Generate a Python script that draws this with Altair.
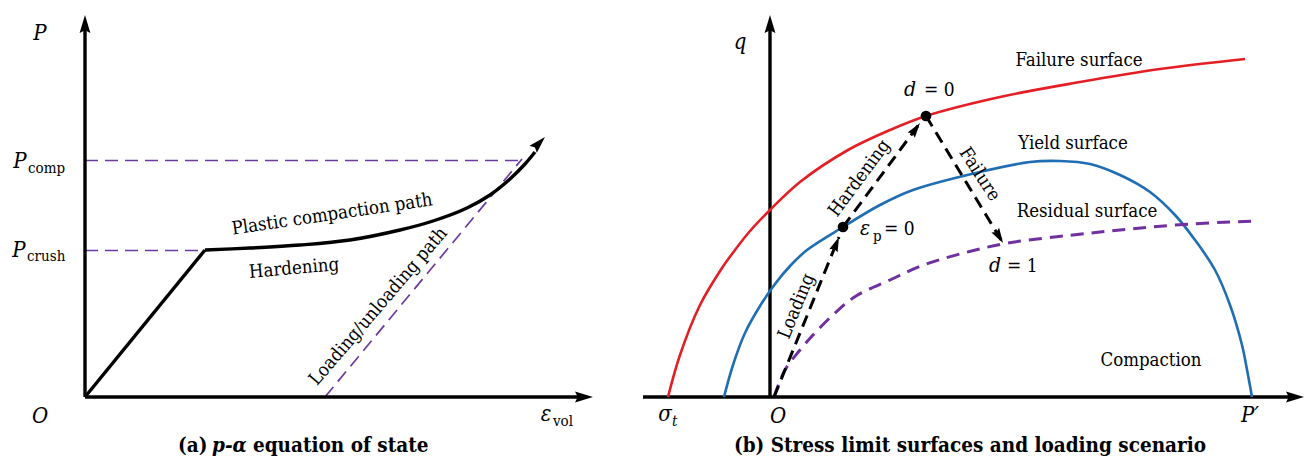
import altair as alt
import pandas as pd

# ---------------- panel (a): p-alpha equation of state ----------------
A_YAXIS_X = [85, 85]
A_YAXIS_Y = [397, 30]
A_XAXIS_X = [85, 580]
A_XAXIS_Y = [397, 397]
ELASTIC_X = [85, 205]
ELASTIC_Y = [397, 250]
COMPACTION_X = [205, 250, 300, 350, 400, 433, 467, 490, 510, 525, 535]
COMPACTION_Y = [250, 248, 245, 240, 230, 221, 208, 195, 179, 164, 152]
P_COMP_X = [85, 525]
P_COMP_Y = [160.5, 160.5]
P_CRUSH_X = [85, 205]
P_CRUSH_Y = [250.5, 250.5]
UNLOAD_X = [325, 522]
UNLOAD_Y = [397, 159]

# ---------------- panel (b): stress limit surfaces ----------------
B_YAXIS_X = [770, 770]
B_YAXIS_Y = [397, 30]
B_XAXIS_X = [643, 1290]
B_XAXIS_Y = [397, 397]
FAILURE_X = [668, 680, 700, 722, 735, 750, 770, 800, 848, 890, 926, 1000, 1080, 1160, 1245]
FAILURE_Y = [397, 355, 305, 268, 250, 231, 210, 182, 150, 130, 116, 97, 82, 69, 59]
YIELD_X = [724, 733, 745, 760, 775, 790, 807, 843, 880, 913, 980, 1030, 1060, 1090, 1120,
           1150, 1175, 1195, 1215, 1230, 1242, 1248, 1252]
YIELD_Y = [397, 365, 333, 306, 284, 266, 250, 227, 205, 190, 172, 162, 161, 164, 175,
           192, 215, 240, 270, 305, 345, 375, 397]
RESIDUAL_X = [774, 785, 800, 813, 835, 856, 890, 921, 960, 1008, 1073, 1130, 1190, 1255]
RESIDUAL_Y = [397, 370, 350, 335, 313, 296, 280, 266, 254, 243, 235, 229, 224, 221]
LOADING_X = [774, 839]
LOADING_Y = [397, 237]
HARDEN_X = [843, 920]
HARDEN_Y = [227, 123]
FAILPATH_X = [926, 1003]
FAILPATH_Y = [116, 243]
STATE_X = [843, 926]
STATE_Y = [227, 116]

# arrow heads (tip position, direction clockwise from "up", size)
HEAD_X = [85, 593, 545, 770, 1304, 839, 920, 1003]
HEAD_Y = [15, 397, 137, 15, 397, 237, 123, 243]
HEAD_ANGLE = [0, 90, 44, 0, 90, 22, 36, 149]
HEAD_SIZE = [324, 324, 289, 324, 324, 225, 225, 225]

# ---------------- text ----------------
ITALIC_TEXT = ["P", "P", "P", "O", "ε", "q", "σ", "O", "P′", "d", "ε", "d"]
ITALIC_X = [40, 20, 19, 40, 546, 740, 665, 778, 1250, 910, 865, 995]
ITALIC_Y = [33, 161, 250, 416, 414, 42, 414, 416, 415, 90, 229, 266]
ITALIC_SIZE = [22, 22, 22, 22, 22, 22, 22, 22, 22, 21, 21, 21]

SUB_TEXT = ["comp", "crush", "vol", "p"]
SUB_X = [28, 27, 553, 873]
SUB_Y = [168, 256, 421, 236]
SUB_T_X = 672
SUB_T_Y = 421

LABEL_TEXT = ["Plastic compaction path", "Hardening", "Loading/unloading path",
              "Failure surface", "Yield surface", "Residual surface", "Compaction",
              "Loading", "Hardening", "Failure"]
LABEL_X = [332, 294, 378, 1079, 1073, 1087, 1151, 796, 859, 980]
LABEL_Y = [214, 268, 306, 60, 143, 211, 360, 306, 178, 174]
LABEL_ANGLE = [-8.4, -5, -49.4, 0, 0, 0, 0, -67.8, -53.5, 57]

EQ_TEXT = ["= 0", "= 0", "= 1"]
EQ_X = [924, 884, 1007]
EQ_Y = [90, 229, 266]

CAPTION_A = ["(a)", "p-α", "equation of state"]
CAPTION_A_X = [178, 212, 253]
CAPTION_B = "(b) Stress limit surfaces and loading scenario"
CAPTION_B_X = 970
CAPTION_Y = 446

SERIF = "DejaVu Serif Condensed, DejaVu Serif"
X = alt.X("x:Q", scale=alt.Scale(domain=[8, 1305], zero=False, nice=False), axis=None)
Y = alt.Y("y:Q", scale=alt.Scale(domain=[8, 457], zero=False, nice=False, reverse=True), axis=None)


def lines(pairs):
    rows = []
    for i, (xs, ys) in enumerate(pairs):
        for j, (x, y) in enumerate(zip(xs, ys)):
            rows.append({"id": i, "o": j, "x": x, "y": y})
    return pd.DataFrame(rows)


def line_layer(pairs, color, width, dash=None, interp="linear"):
    kw = dict(color=color, strokeWidth=width, interpolate=interp, strokeCap="butt")
    if dash:
        kw["strokeDash"] = dash
    return alt.Chart(lines(pairs)).mark_line(**kw).encode(
        x=X, y=Y, detail="id:N", order="o:Q")


def text_layer(texts, xs, ys, size=18, angles=None, sizes=None, style="normal",
               weight="normal", align="center", font=SERIF):
    n = len(texts)
    df = pd.DataFrame({
        "t": texts, "x": xs, "y": ys,
        "a": [a % 360 for a in (angles or [0] * n)],
        "s": sizes or [size] * n,
    })
    return alt.Chart(df).mark_text(
        font=font, fontStyle=style, fontWeight=weight, align=align,
        baseline="middle", color="black").encode(
        x=X, y=Y, text="t:N", angle=alt.Angle("a:Q", scale=None),
        size=alt.Size("s:Q", scale=None))


ARROW = "M0,0L-0.6,2L0,1.7L0.6,2Z"

layers = [
    line_layer([(P_COMP_X, P_COMP_Y), (P_CRUSH_X, P_CRUSH_Y), (UNLOAD_X, UNLOAD_Y)],
               "#6b3a9e", 1.7, dash=[13, 7]),
    line_layer([(A_YAXIS_X, A_YAXIS_Y), (A_XAXIS_X, A_XAXIS_Y), (ELASTIC_X, ELASTIC_Y),
                (B_YAXIS_X, B_YAXIS_Y), (B_XAXIS_X, B_XAXIS_Y)], "black", 3.4),
    line_layer([(COMPACTION_X, COMPACTION_Y)], "black", 3.4, interp="catmull-rom"),
    line_layer([(FAILURE_X, FAILURE_Y)], "#e31e24", 2.6, interp="catmull-rom"),
    line_layer([(YIELD_X, YIELD_Y)], "#1f6db4", 2.6, interp="catmull-rom"),
    line_layer([(RESIDUAL_X, RESIDUAL_Y)], "#7030a0", 3.0, dash=[13, 8], interp="catmull-rom"),
    line_layer([(LOADING_X, LOADING_Y), (HARDEN_X, HARDEN_Y), (FAILPATH_X, FAILPATH_Y)],
               "black", 3.0, dash=[12, 7]),
    alt.Chart(pd.DataFrame({"x": STATE_X, "y": STATE_Y})).mark_circle(
        size=115, color="black", opacity=1).encode(x=X, y=Y),
    alt.Chart(pd.DataFrame({"x": HEAD_X, "y": HEAD_Y, "a": HEAD_ANGLE, "s": HEAD_SIZE}))
    .mark_point(shape=ARROW, filled=True, color="black", opacity=1, strokeWidth=0)
    .encode(x=X, y=Y, angle=alt.Angle("a:Q", scale=None), size=alt.Size("s:Q", scale=None)),
    text_layer(ITALIC_TEXT, ITALIC_X, ITALIC_Y, sizes=ITALIC_SIZE, style="italic"),
    text_layer(SUB_TEXT, SUB_X, SUB_Y, size=15, align="left"),
    text_layer(["t"], [SUB_T_X], [SUB_T_Y], size=15, style="italic", align="left"),
    text_layer(LABEL_TEXT, LABEL_X, LABEL_Y, size=18.5, angles=LABEL_ANGLE),
    text_layer(EQ_TEXT, EQ_X, EQ_Y, size=19, align="left"),
    text_layer([CAPTION_A[0], CAPTION_A[2]], [CAPTION_A_X[0], CAPTION_A_X[2]],
               [CAPTION_Y, CAPTION_Y], size=20.5, weight="bold", align="left"),
    text_layer([CAPTION_A[1]], [CAPTION_A_X[1]], [CAPTION_Y], size=20.5, weight="bold",
               style="italic", align="left"),
    text_layer([CAPTION_B], [CAPTION_B_X], [CAPTION_Y], size=20.5, weight="bold"),
]

chart = alt.layer(*layers).properties(
    width=1297, height=449, padding=0,
    autosize=alt.AutoSizeParams(type="none"),
    background="white",
).configure_view(stroke=None)

chart.save("out.html", embed_options={"renderer": "svg", "actions": False})
